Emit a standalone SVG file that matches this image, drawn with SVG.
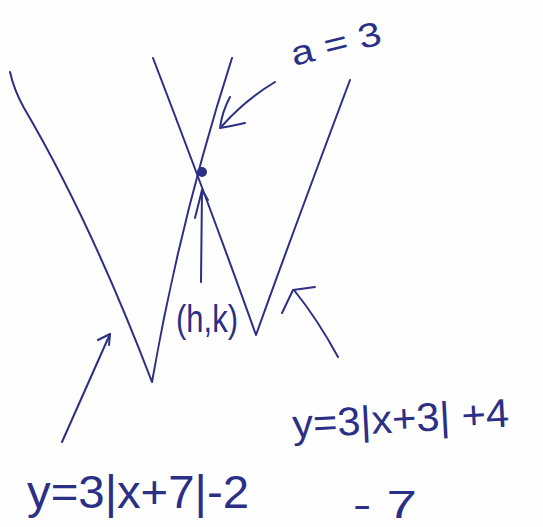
<svg xmlns="http://www.w3.org/2000/svg" width="543" height="527" viewBox="0 0 543 527">
<style>
.ln{fill:none;stroke:#2b2f86;stroke-width:2;stroke-linecap:round;stroke-linejoin:round}
.tx{font-family:"Liberation Sans","DejaVu Sans",sans-serif;fill:#2b2f86;font-weight:normal}
</style>
<rect width="543" height="527" fill="#fdfefd"/>
<g id="graphs">
<path class="ln" d="M10,72 Q14,90 24,108 Q90,220 152,382 Q180,220 232,58"/>
<path class="ln" d="M153,58 Q215,220 256,335 Q290,240 350,80"/>
<circle cx="202" cy="172" r="5" fill="#2b2f86"/>
</g>
<g id="connectors">
<path class="ln" d="M275,82 Q245,100 222,126"/>
<path class="ln" d="M230,97 Q222,112 220,128 Q232,126 245,123"/>
<path class="ln" d="M201,282 L202,190"/>
<path class="ln" d="M195,218 L202,190 L208,200"/>
<path class="ln" d="M338,357 Q318,320 294,290"/>
<path class="ln" d="M282,313 L293,290 L315,287"/>
<path class="ln" d="M62,442 L110,334"/>
<path class="ln" d="M98,340 L110,334 L109,345"/>
</g>
<g id="labels">
<text class="tx" x="294" y="66" font-size="34" transform="rotate(-14 294 66)" textLength="92" lengthAdjust="spacingAndGlyphs">a = 3</text>
<text class="tx" x="176" y="332" font-size="38" textLength="62" lengthAdjust="spacingAndGlyphs">(h,k)</text>
<text class="tx" x="293" y="438" font-size="40" transform="rotate(-3 293 438)" textLength="217" lengthAdjust="spacingAndGlyphs">y=3|x+3| +4</text>
<text class="tx" x="27" y="508" font-size="46" textLength="222" lengthAdjust="spacingAndGlyphs">y=3|x+7|-2</text>
<text class="tx" x="353" y="518" font-size="38" textLength="64" lengthAdjust="spacingAndGlyphs">- 7</text>
</g>
</svg>
